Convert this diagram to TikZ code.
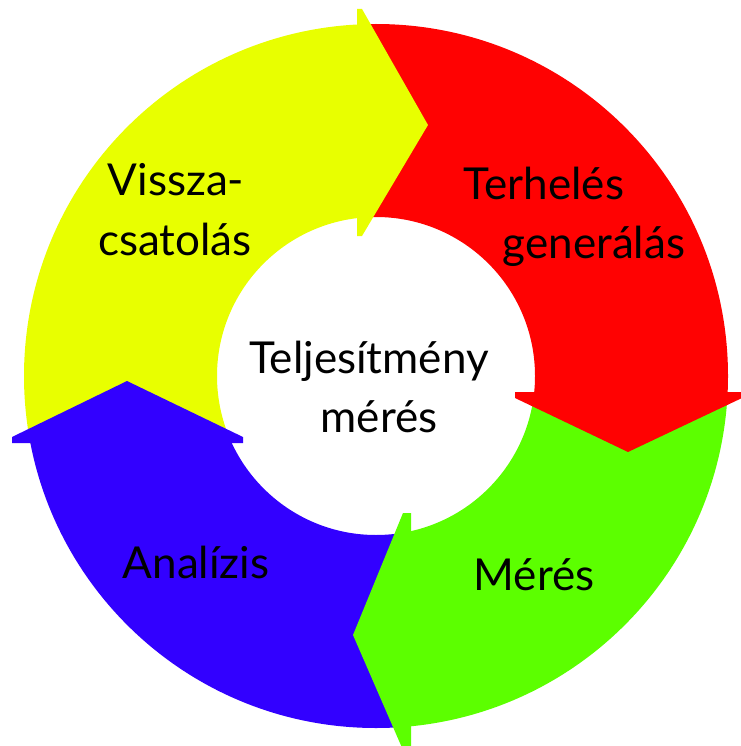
\documentclass[tikz,border=0pt]{standalone}
\usepackage{fontspec}
\setmainfont{Lato}
\definecolor{cycYellow}{RGB}{232,255,0}
\definecolor{cycRed}{RGB}{255,2,2}
\definecolor{cycGreen}{RGB}{92,255,0}
\definecolor{cycBlue}{RGB}{50,0,255}
\tikzset{
  lbl/.style={anchor=base, inner sep=0pt, font=\fontsize{44}{50}\selectfont, text=black},
  ringpart/.style={even odd rule},
}
\begin{document}
\begin{tikzpicture}[x=1pt, y=-1pt]
\useasboundingbox (0,0) rectangle (740,746);
\coordinate (c) at (376,376);
% ring sectors; every cut lies inside an arrow head so no seam shows
\begin{scope}
  \clip (-10,-10) rectangle (361,443);
  \fill[cycYellow, ringpart] (c) circle[radius=352pt] (c) circle[radius=159pt];
\end{scope}
\begin{scope}
  \clip (359,-10) rectangle (760,396);
  \fill[cycRed, ringpart] (c) circle[radius=352pt] (c) circle[radius=159pt];
\end{scope}
\begin{scope}
  \clip (405,394) rectangle (760,760);
  \fill[cycGreen, ringpart] (c) circle[radius=352pt] (c) circle[radius=159pt];
\end{scope}
\begin{scope}
  \clip (-10,439) rectangle (407,760);
  \fill[cycBlue, ringpart] (c) circle[radius=352pt] (c) circle[radius=159pt];
\end{scope}
% arrow heads
\fill[cycYellow] (357,9) -- (362,9) -- (428,125) -- (362,236) -- (357,236) -- cycle;
\fill[cycRed] (515,392) -- (742,392) -- (742,398) -- (628,452) -- (515,398) -- cycle;
\fill[cycGreen] (411,513) -- (411,750) -- (403,750) -- (353,635) -- (403,513) -- cycle;
\fill[cycBlue] (12,443) -- (12,437) -- (127,381) -- (243,437) -- (243,443) -- cycle;
% labels
\node[lbl] (v1) at (176,195) {Vissza-};
\node[lbl] (v2) at (175,255) {csatolás};
\node[lbl] (t1) at (544,200) {Terhelés};
\node[lbl] (t2) at (594,258) {generálás};
\node[lbl] (c1) at (369,373) {Teljesítmény};
\node[lbl] (c2) at (379,432) {mérés};
\node[lbl] (a1) at (196,578) {Analízis};
\node[lbl] (m1) at (534,590) {Mérés};
\end{tikzpicture}
\end{document}
